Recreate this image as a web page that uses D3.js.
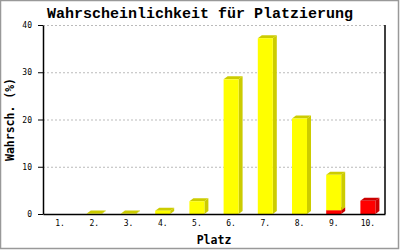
<!DOCTYPE html>
<html>
<head>
<meta charset="utf-8">
<script src="https://cdn.jsdelivr.net/npm/d3@7"></script>
<style>
  body { margin: 0; background: #fff; }
  svg { display: block; }
</style>
</head>
<body>
<svg></svg>
<script>
// chart data
var categories = ["1.", "2.", "3.", "4.", "5.", "6.", "7.", "8.", "9.", "10."];
var yellowValues = [0, 0.1, 0.1, 0.7, 2.7, 28.5, 37.2, 20.2, 7.5, 0];
var redValues = [0, 0, 0, 0, 0, 0, 0, 0, 0.8, 2.8];
var yTicks = [0, 10, 20, 30, 40];

var width = 400;
var height = 250;
// plot box (note: "top" is a reserved window property)
var plotLeft = 43, plotRight = 385, plotTop = 25, plotBottom = 214;

var svg = d3.select("svg")
  .attr("width", width)
  .attr("height", height);

// outer frame
svg.append("rect")
  .attr("x", 0.5).attr("y", 0.5)
  .attr("width", 398).attr("height", 248)
  .attr("fill", "#fff")
  .attr("stroke", "#999")
  .attr("stroke-width", 1.5);

var x = d3.scaleBand()
  .domain(categories)
  .range([plotLeft, plotRight]);

var y = d3.scaleLinear()
  .domain([0, 40])
  .range([plotBottom, plotTop]);

// grid
svg.append("g")
  .selectAll("line")
  .data(yTicks.filter(function (d) { return d > 0; }))
  .enter().append("line")
  .attr("x1", plotLeft).attr("x2", plotRight)
  .attr("y1", function (d) { return y(d) + 0.5; })
  .attr("y2", function (d) { return y(d) + 0.5; })
  .attr("stroke", "#bbb")
  .attr("stroke-dasharray", "2,2");

// stacked 3d bars
var rows = categories.map(function (c, i) {
  return { cat: c, red: redValues[i], yellow: yellowValues[i] };
});
var series = d3.stack().keys(["red", "yellow"])(rows);
var colors = {
  red: { front: "#ff0000", side: "#cc0000" },
  yellow: { front: "#ffff00", side: "#cccc00" }
};

var barW = 15, dx = 4, dy = 3;
var bars = svg.append("g");

series.forEach(function (s) {
  s.forEach(function (seg) {
    if (seg[1] - seg[0] <= 0) return;
    var cat = seg.data.cat;
    var x0 = x(cat) + x.bandwidth() / 2 - barW / 2;
    var x1 = x0 + barW;
    var yTop = y(seg[1]);
    var yBot = y(seg[0]);
    var c = colors[s.key];
    bars.append("polygon")
      .attr("points", [[x1, yBot], [x1 + dx, yBot - dy], [x1 + dx, yTop - dy], [x1, yTop]].join(" "))
      .attr("fill", c.side);
    bars.append("polygon")
      .attr("points", [[x0, yTop], [x0 + dx, yTop - dy], [x1 + dx, yTop - dy], [x1, yTop]].join(" "))
      .attr("fill", c.side);
    bars.append("rect")
      .attr("x", x0).attr("y", yTop)
      .attr("width", barW).attr("height", yBot - yTop)
      .attr("fill", c.front);
  });
});

// axes
var yAxis = svg.append("g")
  .attr("transform", "translate(" + plotLeft + ",0)")
  .call(d3.axisLeft(y).tickValues(yTicks).tickSize(5).tickSizeOuter(0).tickPadding(6));
yAxis.selectAll("text")
  .attr("font-family", "DejaVu Sans Mono")
  .attr("font-size", 8)
  .attr("fill", "#000");

var xAxis = svg.append("g")
  .attr("transform", "translate(0," + plotBottom + ")")
  .call(d3.axisBottom(x).tickSize(0).tickSizeOuter(0).tickPadding(6));
xAxis.selectAll("text")
  .attr("font-family", "DejaVu Sans Mono")
  .attr("font-size", 8)
  .attr("fill", "#000");

svg.selectAll(".domain").attr("stroke", "#000").attr("stroke-width", 1.5);

svg.append("line")
  .attr("x1", plotRight).attr("x2", plotRight)
  .attr("y1", plotTop).attr("y2", plotBottom)
  .attr("stroke", "#000")
  .attr("stroke-width", 1.5);

// titles
svg.append("text")
  .attr("x", 200).attr("y", 17.5)
  .attr("text-anchor", "middle")
  .attr("font-family", "Liberation Mono")
  .attr("font-weight", "bold")
  .attr("font-size", 15)
  .text("Wahrscheinlichkeit für Platzierung");

svg.append("text")
  .attr("x", (plotLeft + plotRight) / 2).attr("y", 243.5)
  .attr("text-anchor", "middle")
  .attr("font-family", "DejaVu Sans Mono")
  .attr("font-weight", "bold")
  .attr("font-size", 11.5)
  .text("Platz");

svg.append("text")
  .attr("transform", "translate(14," + (plotTop + plotBottom) / 2 + ") rotate(-90)")
  .attr("text-anchor", "middle")
  .attr("font-family", "DejaVu Sans Mono")
  .attr("font-weight", "bold")
  .attr("font-size", 11.5)
  .text("Wahrsch. (%)");
</script>
</body>
</html>
